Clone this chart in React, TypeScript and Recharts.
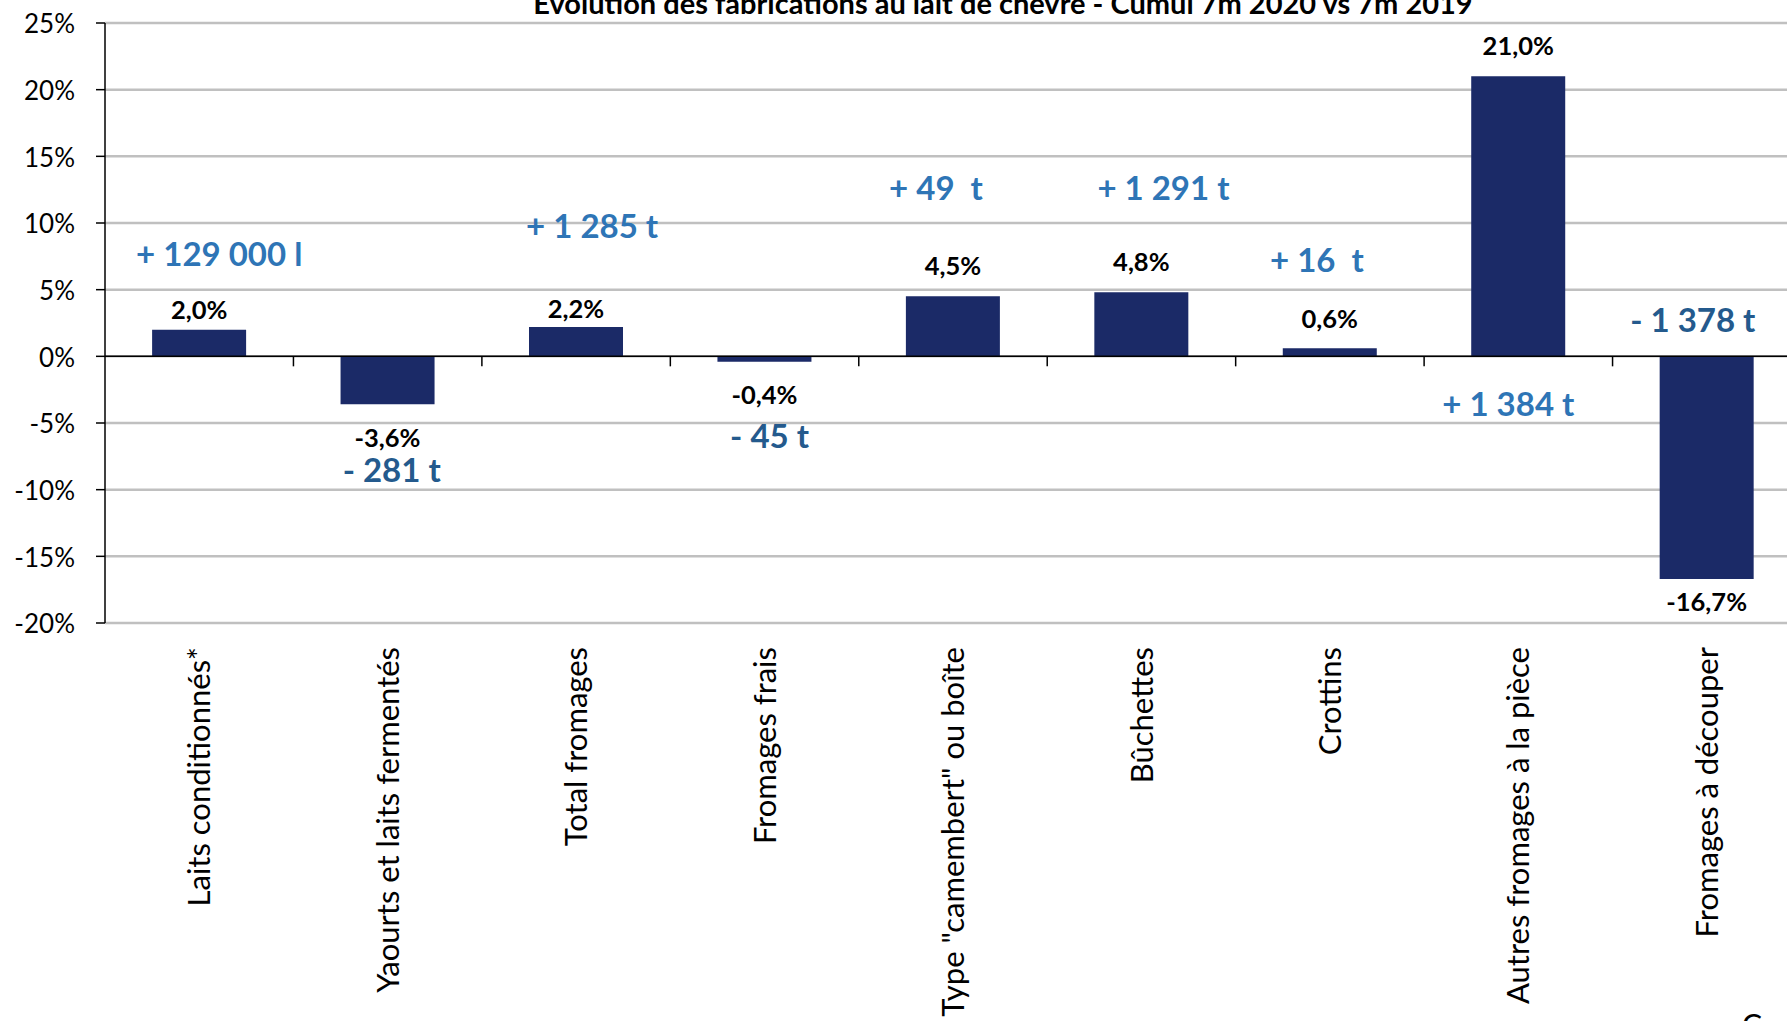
import React from "react";
import { BarChart, Bar, XAxis, YAxis, CartesianGrid, ReferenceLine, ReferenceDot, LabelList } from "recharts";

const categories = [
  "Laits conditionnés*",
  "Yaourts et laits fermentés",
  "Total fromages",
  "Fromages frais",
  'Type "camembert" ou boîte',
  "Bûchettes",
  "Crottins",
  "Autres fromages à la pièce",
  "Fromages à découper",
];
const evolutionPct = [2.0, -3.6, 2.2, -0.4, 4.5, 4.8, 0.6, 21.0, -16.7];
const volumeLabels = ["+ 129 000 l", "- 281 t", "+ 1 285 t", "- 45 t", "+ 49  t", "+ 1 291 t", "+ 16  t", "+ 1 384 t", "- 1 378 t"];
const volumeLabelLevel = [7.7, -8.55, 9.8, -6.0, 12.6, 12.6, 7.2, -3.55, 2.75];
const yTicks = [-20, -15, -10, -5, 0, 5, 10, 15, 20, 25];
const title = "Evolution des fabrications au lait de chèvre - Cumul 7m 2020 vs 7m 2019";

// style-only tweaks
const volumeDx = [20, 4, 16, 5, -17, 22, -13, -10, -14];
const pctOffset = [19.5, 33, 18, 33, 30.5, 31, 30, 31, 22.6];

const data = categories.map((name, i) => ({ name, value: evolutionPct[i] }));

const FONT = "Lato, 'Noto Sans', sans-serif";
const BAR = "#1B2A67";
const LIGHT_BLUE = "#2E75B6";
const DARK_BLUE = "#245A8D";

const fmtPct = (v: number) => v.toFixed(1).replace(".", ",") + "%";

const PctLabel = (props: any) => {
  const { x, y, width, height, value, index } = props;
  const top = Math.min(y, y + height);
  const bottom = Math.max(y, y + height);
  const cx = x + width / 2;
  const cy = value >= 0 ? top - pctOffset[index] : bottom + pctOffset[index];
  return (
    <text x={cx} y={cy} dy="0.36em" textAnchor="middle" fontFamily={FONT} fontWeight={700} fontSize={25.5} fill="#000">
      {fmtPct(value)}
    </text>
  );
};

const CatTick = (props: any) => {
  const { x, y, payload } = props;
  return (
    <text
      x={x}
      y={y}
      dy="0.36em"
      transform={`rotate(-90, ${x}, ${y})`}
      textAnchor="end"
      fontFamily={FONT}
      fontSize={31}
      fill="#000"
    >
      {payload.value}
    </text>
  );
};

const ZeroLine = (props: any) => {
  const { x1, y1, x2, y2 } = props;
  const n = categories.length;
  const step = (x2 - x1) / n;
  const ticks = [];
  for (let i = 1; i < n; i++) {
    const tx = x1 + step * i;
    ticks.push(<line key={i} x1={tx} y1={y1} x2={tx} y2={y1 + 10} stroke="#000" strokeWidth={1.5} />);
  }
  return (
    <g>
      <line x1={x1} y1={y1} x2={x2} y2={y2} stroke="#000" strokeWidth={1.5} />
      {ticks}
    </g>
  );
};

export default function App() {
  return (
    <div style={{ position: "fixed", left: 0, top: 0, width: 1787, height: 1021, overflow: "hidden", background: "#fff" }}>
      <BarChart
        width={1801}
        height={1021}
        data={data}
        margin={{ top: 23, right: 0, bottom: 0, left: 0 }}
        barCategoryGap="25%"
      >
        <CartesianGrid vertical={false} stroke="#C0C0C0" strokeWidth={2.5} />
        <XAxis
          dataKey="name"
          axisLine={false}
          tickLine={false}
          interval={0}
          height={398}
          tickSize={0}
          tickMargin={24}
          tick={<CatTick />}
        />
        <YAxis
          domain={[-20, 25]}
          ticks={yTicks}
          width={105}
          tickFormatter={(v: number) => `${v}%`}
          axisLine={{ stroke: "#000", strokeWidth: 1.5 }}
          tickLine={{ stroke: "#000", strokeWidth: 1.5 }}
          tickSize={9}
          tickMargin={21}
          tick={{ fontFamily: FONT, fontSize: 26, fill: "#000", dy: 1 }}
          allowDataOverflow
        />
        <Bar dataKey="value" fill={BAR} isAnimationActive={false}>
          <LabelList dataKey="value" content={<PctLabel />} />
        </Bar>
        <ReferenceLine y={0} shape={(p: any) => <ZeroLine {...p} />} />
        {categories.map((c, i) => (
          <ReferenceDot
            key={c}
            x={c}
            y={volumeLabelLevel[i]}
            r={1}
            fill="none"
            stroke="none"
            label={(lp: any) => {
              const vb = lp.viewBox || {};
              const cx = (vb.x ?? 0) + (vb.width ?? 0) / 2 + volumeDx[i];
              const cy = (vb.y ?? 0) + (vb.height ?? 0) / 2;
              return (
                <text
                  x={cx}
                  y={cy}
                  dy="0.36em"
                  textAnchor="middle"
                  fontFamily={FONT}
                  fontWeight={700}
                  fontSize={33}
                  fill={volumeLabels[i].startsWith("-") ? DARK_BLUE : LIGHT_BLUE}
                  style={{ whiteSpace: "pre" }}
                >
                  {volumeLabels[i]}
                </text>
              );
            }}
          />
        ))}
      </BarChart>
      <svg width={1787} height={1021} style={{ position: "absolute", left: 0, top: 0, pointerEvents: "none" }}>
        <text x={1003} y={14} textAnchor="middle" fontFamily={FONT} fontWeight={700} fontSize={29} fill="#000">
          {title}
        </text>
        <text x={1742} y={1036} fontFamily={FONT} fontSize={30} fill="#000">
          C
        </text>
      </svg>
    </div>
  );
}
